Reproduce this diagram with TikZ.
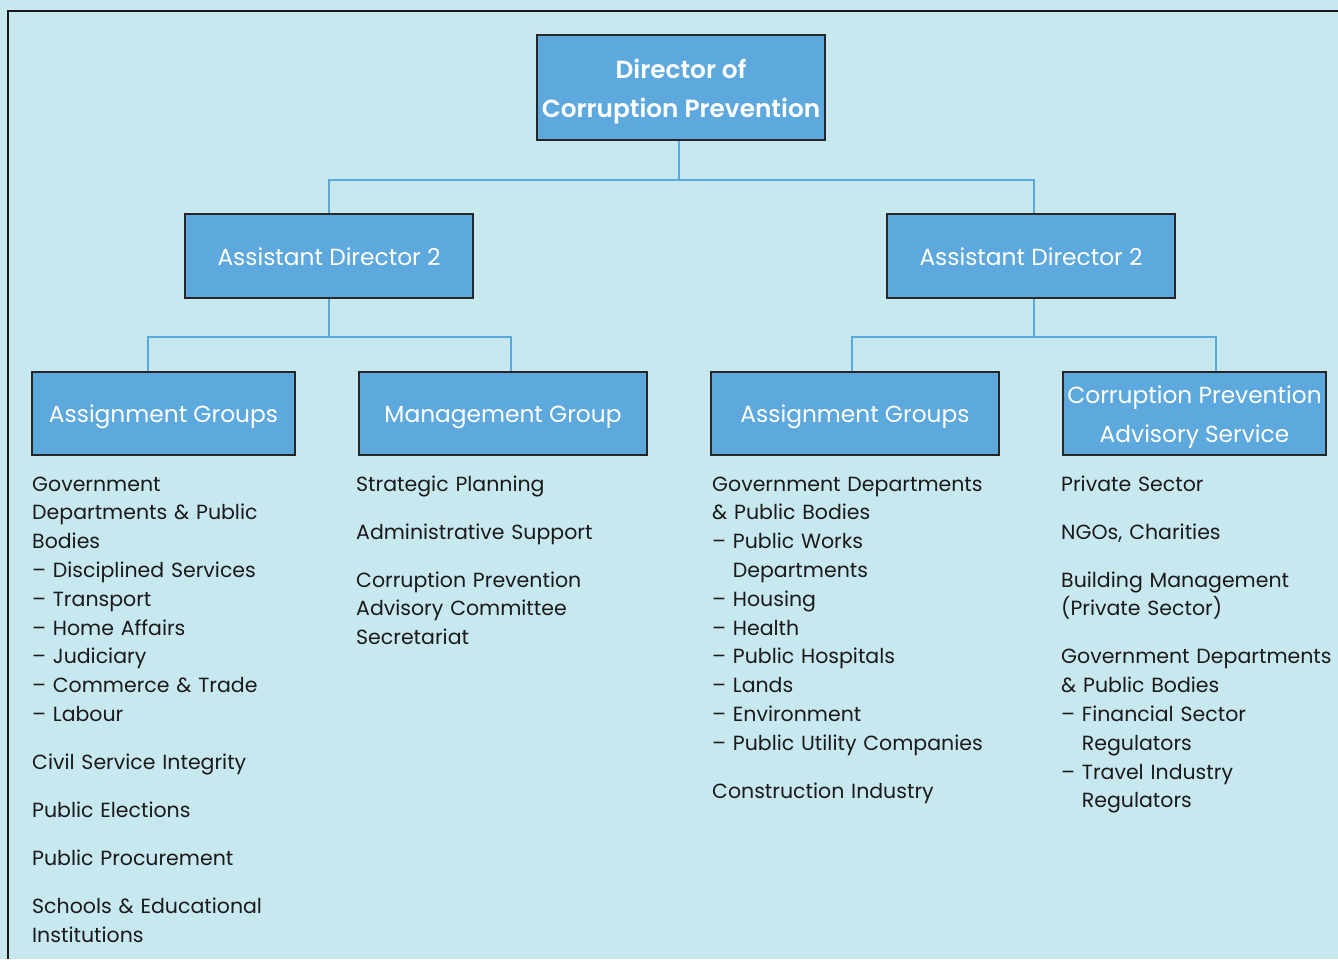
\documentclass[tikz,border=0pt]{standalone}
\usepackage{fontspec}
\setmainfont{Poppins}
\newfontfamily\demifont{Poppins SemiBold}
\begin{document}
\definecolor{panel}{HTML}{C8E8F0}
\definecolor{boxfill}{HTML}{5DA8DC}
\definecolor{wire}{HTML}{5BA8DA}
\definecolor{ink}{HTML}{1A1A1A}
\begin{tikzpicture}[x=1pt,y=-1pt,
  unit/.style={draw=black!85, line width=1.3pt, fill=boxfill, text=white,
    inner sep=0pt, align=center, font=\fontsize{23.3}{39}\selectfont},
  oneline/.style={unit, text height=18.5pt, text depth=0pt},
  caption/.style={inner sep=0pt, text=white, align=center,
    font=\fontsize{23.3}{39}\selectfont},
  link/.style={draw=wire, line width=1.5pt},
  duties/.style={anchor=base west, inner sep=0pt, text=ink, text width=330pt,
    align=left, font=\fontsize{20.5}{28.8}\selectfont}]
\useasboundingbox (0,0) rectangle (1338,959);
\fill[panel] (0,0) rectangle (1338,959);
\draw[black!90, line width=2pt] (8,959) |- (1338,11);

% top of the hierarchy
\node[unit, minimum width=288pt, minimum height=105pt] (dir) at (681,87.5) {};
\node[caption, font=\demifont\fontsize{24.8}{39}\selectfont] (dirtext)
  at ([yshift=-4pt]dir.center) {Director of\\Corruption Prevention};

% assistant directors
\node[oneline, minimum width=288pt, minimum height=84pt] (adl) at (329,256) {Assistant Director 2};
\node[oneline, minimum width=288pt, minimum height=84pt] (adr) at (1031,256) {Assistant Director 2};

% groups
\node[oneline, minimum width=263pt, minimum height=83pt] (agl) at (163.5,413.5) {Assignment Groups};
\node[oneline, minimum width=288pt, minimum height=83pt] (mg) at (503,413.5) {Management Group};
\node[oneline, minimum width=288pt, minimum height=83pt] (agr) at (855,413.5) {Assignment Groups};
\node[unit, minimum width=263pt, minimum height=83pt] (cpas) at (1194.5,413.5) {};
\node[caption] (cpastext) at ([yshift=-3.5pt]cpas.center) {Corruption Prevention\\Advisory Service};

% connectors
\coordinate (j0) at (679,180);
\draw[link] (dir.south -| j0) -- (j0);
\draw[link] (j0) -| (adl.north);
\draw[link] (j0) -| ([xshift=3pt]adr.north);
\coordinate (j1) at (329,337);
\coordinate (j2) at (1034,337);
\draw[link] (adl.south) -- (j1);
\draw[link] (j1) -| ([xshift=-15.5pt]agl.north);
\draw[link] (j1) -| ([xshift=8pt]mg.north);
\draw[link] ([xshift=3pt]adr.south) -- (j2);
\draw[link] (j2) -| ([xshift=-3pt]agr.north);
\draw[link] (j2) -| ([xshift=21.5pt]cpas.north);

% duties under each group
\node[duties] (d1) at (32,491) {Government\\Departments \& Public\\Bodies\\
  – Disciplined Services\\– Transport\\– Home Affairs\\– Judiciary\\
  – Commerce \& Trade\\– Labour\\[19.2pt]
  Civil Service Integrity\\[19.2pt]
  Public Elections\\[19.2pt]
  Public Procurement\\[19.2pt]
  Schools \& Educational\\Institutions};
\node[duties] (d2) at (356,491) {Strategic Planning\\[19.2pt]
  Administrative Support\\[19.2pt]
  Corruption Prevention\\Advisory Committee\\Secretariat};
\node[duties] (d3) at (712,491) {Government Departments\\\& Public Bodies\\
  – Public Works\\\phantom{– }Departments\\– Housing\\– Health\\
  – Public Hospitals\\– Lands\\– Environment\\– Public Utility Companies\\[19.2pt]
  Construction Industry};
\node[duties] (d4) at (1061,491) {Private Sector\\[19.2pt]
  NGOs, Charities\\[19.2pt]
  Building Management\\(Private Sector)\\[19.2pt]
  Government Departments\\\& Public Bodies\\
  – Financial Sector\\\phantom{– }Regulators\\
  – Travel Industry\\\phantom{– }Regulators};
\end{tikzpicture}
\end{document}
